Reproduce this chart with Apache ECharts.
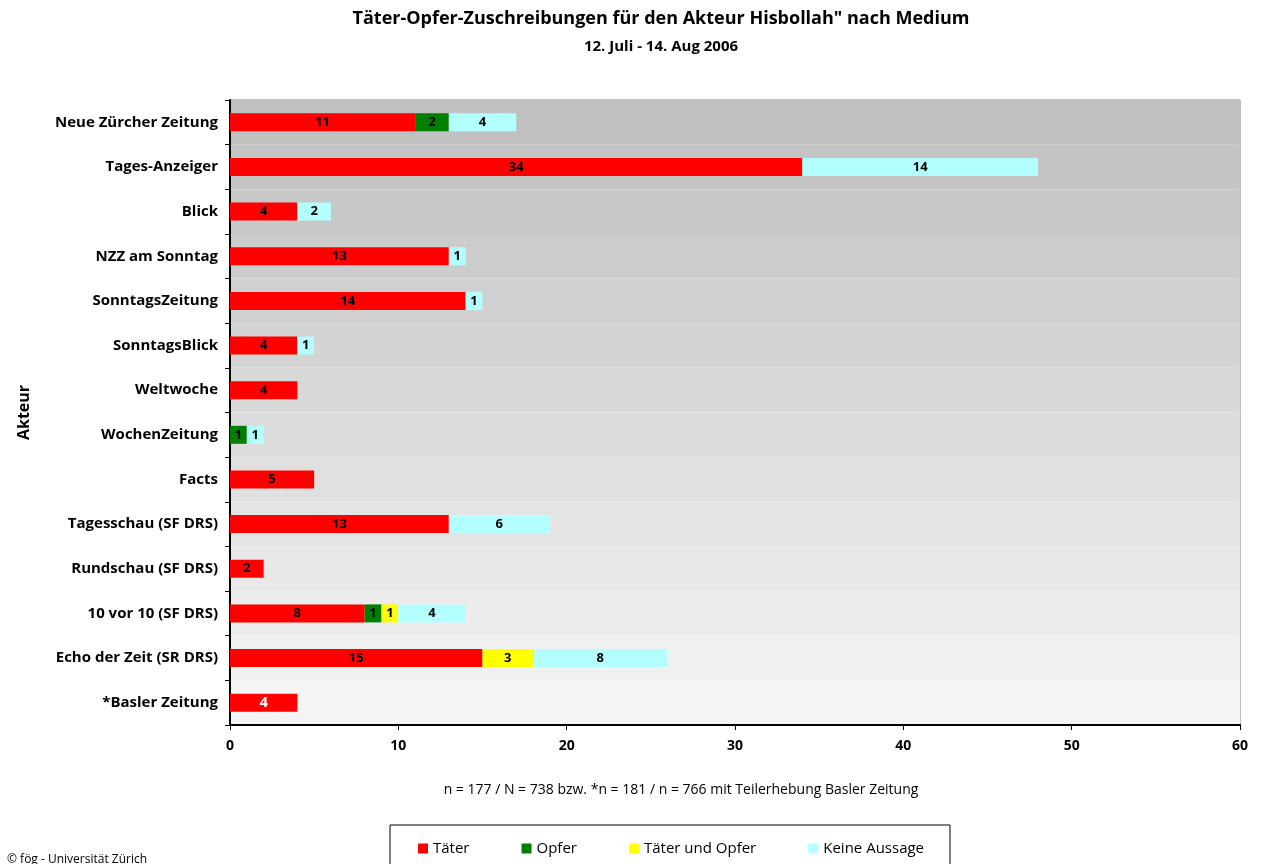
<!DOCTYPE html>
<html>
<head>
<meta charset="utf-8">
<script src="https://cdn.jsdelivr.net/npm/echarts@6/dist/echarts.min.js"></script>
<style>
  html, body { margin: 0; padding: 0; background: #fff; }
  #chart { width: 1263px; height: 864px; }
</style>
</head>
<body>
<div id="chart"></div>
<script>
const categories = [
  'Neue Zürcher Zeitung', 'Tages-Anzeiger', 'Blick', 'NZZ am Sonntag',
  'SonntagsZeitung', 'SonntagsBlick', 'Weltwoche', 'WochenZeitung', 'Facts',
  'Tagesschau (SF DRS)', 'Rundschau (SF DRS)', '10 vor 10 (SF DRS)',
  'Echo der Zeit (SR DRS)', '*Basler Zeitung'
]
const taeter = [11, 34, 4, 13, 14, 4, 4, 0, 5, 13, 2, 8, 15, 4]
const opfer = [2, 0, 0, 0, 0, 0, 0, 1, 0, 0, 0, 1, 0, 0]
const taeterUndOpfer = [0, 0, 0, 0, 0, 0, 0, 0, 0, 0, 0, 1, 3, 0]
const keineAussage = [4, 14, 2, 1, 1, 1, 0, 1, 0, 6, 0, 4, 8, 0]
const xTicks = [0, 10, 20, 30, 40, 50, 60]

// stepped grey background, dark at top, light at bottom
const bandColors = [
  '#c0c0c0', '#c4c4c4', '#c8c8c8', '#cccccc', '#d0d0d0', '#d4d4d4', '#d8d8d8',
  '#dcdcdc', '#e0e0e0', '#e4e4e4', '#e8e8e8', '#ececec', '#f0f0f0', '#f4f4f4'
]

const font = '"Open Sans", "Noto Sans", sans-serif'

const chart = echarts.init(document.getElementById('chart'))

function barSeries(name, values, color) {
  return {
    name: name,
    type: 'bar',
    stack: 'total',
    barWidth: 18,
    itemStyle: { color: color },
    label: {
      show: true,
      position: 'inside',
      color: '#000',
      fontFamily: font,
      fontWeight: 'bold',
      fontSize: 13,
      formatter: (p) => (p.value ? String(p.value) : '')
    },
    emphasis: { disabled: true },
    data: values
  }
}

const taeterData = taeter.map((v, i) =>
  i === categories.length - 1
    ? { value: v, label: { color: '#fff', fontSize: 15 } }
    : v
)

chart.setOption({
  animation: false,
  textStyle: { fontFamily: font },
  title: [{
    text: 'Täter-Opfer-Zuschreibungen für den Akteur Hisbollah" nach Medium',
    left: 656,
    top: 5,
    textAlign: 'center',
    textStyle: { fontSize: 18, fontWeight: 'bold', color: '#000', fontFamily: font }
  }, {
    text: '12. Juli - 14. Aug 2006',
    left: 656,
    top: 34,
    textAlign: 'center',
    textStyle: { fontSize: 15, fontWeight: 'bold', color: '#000', fontFamily: font }
  }, {
    text: 'n = 177 / N = 738 bzw. *n = 181 / n = 766 mit Teilerhebung Basler Zeitung',
    left: 676,
    top: 778,
    textAlign: 'center',
    textStyle: { fontSize: 14, fontWeight: 'normal', color: '#000', fontFamily: font }
  }, {
    text: '© fög - Universität Zürich',
    left: 2,
    top: 849,
    textStyle: { fontSize: 12, fontWeight: 'normal', color: '#000', fontFamily: font }
  }],
  grid: {
    left: 230,
    right: 23,
    top: 100,
    bottom: 139,
    show: true,
    borderColor: '#808080',
    borderWidth: 1
  },
  legend: {
    left: 413,
    top: 836,
    itemWidth: 10,
    itemHeight: 10,
    itemGap: 52,
    icon: 'rect',
    textStyle: { fontSize: 15, color: '#000', fontFamily: font },
    data: ['Täter', 'Opfer', 'Täter und Opfer', 'Keine Aussage']
  },
  graphic: [{
    type: 'rect',
    shape: { x: 390, y: 825, width: 560, height: 50 },
    style: { fill: '#fff', stroke: '#000', lineWidth: 1 },
    z: -1
  }],
  xAxis: {
    type: 'value',
    min: xTicks[0],
    max: xTicks[xTicks.length - 1],
    interval: 10,
    axisLine: { show: true, lineStyle: { color: '#000', width: 2 } },
    axisTick: { show: true, length: 5, lineStyle: { color: '#000' } },
    axisLabel: { color: '#000', fontWeight: 'bold', fontSize: 14, margin: 14, fontFamily: font },
    splitLine: { show: false }
  },
  yAxis: {
    type: 'category',
    inverse: true,
    data: categories,
    name: 'Akteur',
    nameLocation: 'middle',
    nameGap: 198,
    nameTextStyle: { fontSize: 16, fontWeight: 'bold', color: '#000', fontFamily: font },
    axisLine: { show: true, lineStyle: { color: '#000', width: 2 } },
    axisTick: { show: true, length: 5, lineStyle: { color: '#000' } },
    axisLabel: { color: '#000', fontWeight: 'bold', fontSize: 15, margin: 12, fontFamily: font },
    splitArea: { show: true, areaStyle: { color: bandColors } },
    splitLine: { show: false }
  },
  series: [
    barSeries('Täter', taeterData, '#ff0000'),
    barSeries('Opfer', opfer, '#008000'),
    barSeries('Täter und Opfer', taeterUndOpfer, '#ffff00'),
    barSeries('Keine Aussage', keineAussage, '#b3ffff')
  ]
})
</script>
</body>
</html>
